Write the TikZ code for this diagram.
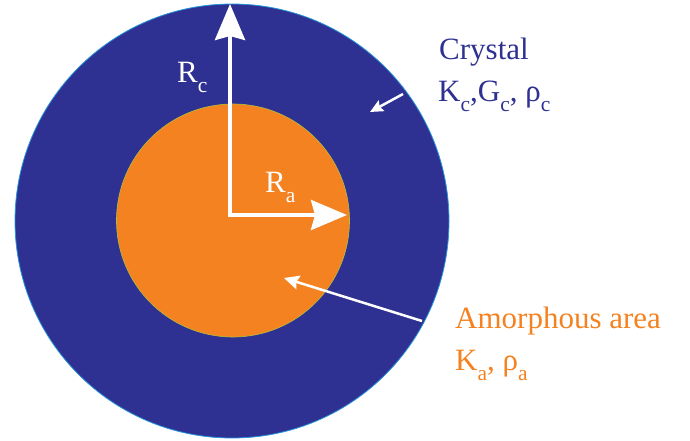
\documentclass[tikz,border=0pt]{standalone}
\usepackage{fontspec}
\setmainfont{Liberation Serif}
\usetikzlibrary{arrows.meta}
\definecolor{navy}{RGB}{46,49,146}
\definecolor{orng}{RGB}{244,130,32}
\definecolor{rimblue}{RGB}{40,150,220}
\definecolor{rimgreen}{RGB}{180,190,60}
\newcommand\sbx[1]{\raisebox{-10pt}{\fontsize{21.5}{21.5}\selectfont #1}}
\begin{document}
\begin{tikzpicture}[x=1pt,y=-1pt,
  lbl/.style={anchor=base west,inner sep=0pt,font=\fontsize{31}{31}\selectfont},
  bigarrow/.style={draw=white,line width=4pt,line cap=rect,-{Stealth[length=36pt,width=30pt,inset=4pt]}},
  thinarrow/.style={draw=white,line width=2.5pt,-{Stealth[length=15pt,width=14pt,inset=2pt]}}]
\useasboundingbox (0,0) rectangle (690,441);
\node[circle,fill=navy,draw=rimblue,line width=0.8pt,minimum size=434pt,inner sep=0pt] (outer) at (232,221) {};
\node[circle,fill=orng,draw=rimgreen,line width=0.6pt,minimum size=233pt,inner sep=0pt] (inner) at (233,220.5) {};
\coordinate (O) at (230,215);
\coordinate (top) at (230,4);
\coordinate (rgt) at (347,215);
\draw[bigarrow] (O) -- (top);
\draw[bigarrow] (O) -- (rgt);
\node[lbl,text=white] (rc) at (177,83) {R\sbx{c}};
\node[lbl,text=white] (ra) at (265,192) {R\sbx{a}};
\node[lbl,text=navy] (cry) at (439,60) {Crystal};
\node[lbl,text=navy] (cryp) at (438,102) {K\sbx{c},G\sbx{c}, ρ\sbx{c}};
\node[lbl,text=orng] (am) at (455,328) {Amorphous area};
\node[lbl,text=orng] (amp) at (455,370) {K\sbx{a}, ρ\sbx{a}};
\coordinate (c1) at (403,94);
\coordinate (c2) at (370,112);
\draw[thinarrow,-{Stealth[length=13pt,width=12pt,inset=2pt]}] (c1) -- (c2);
\coordinate (a1) at (422,321);
\coordinate (a2) at (284,278);
\draw[thinarrow] (a1) -- (a2);
\end{tikzpicture}
\end{document}
